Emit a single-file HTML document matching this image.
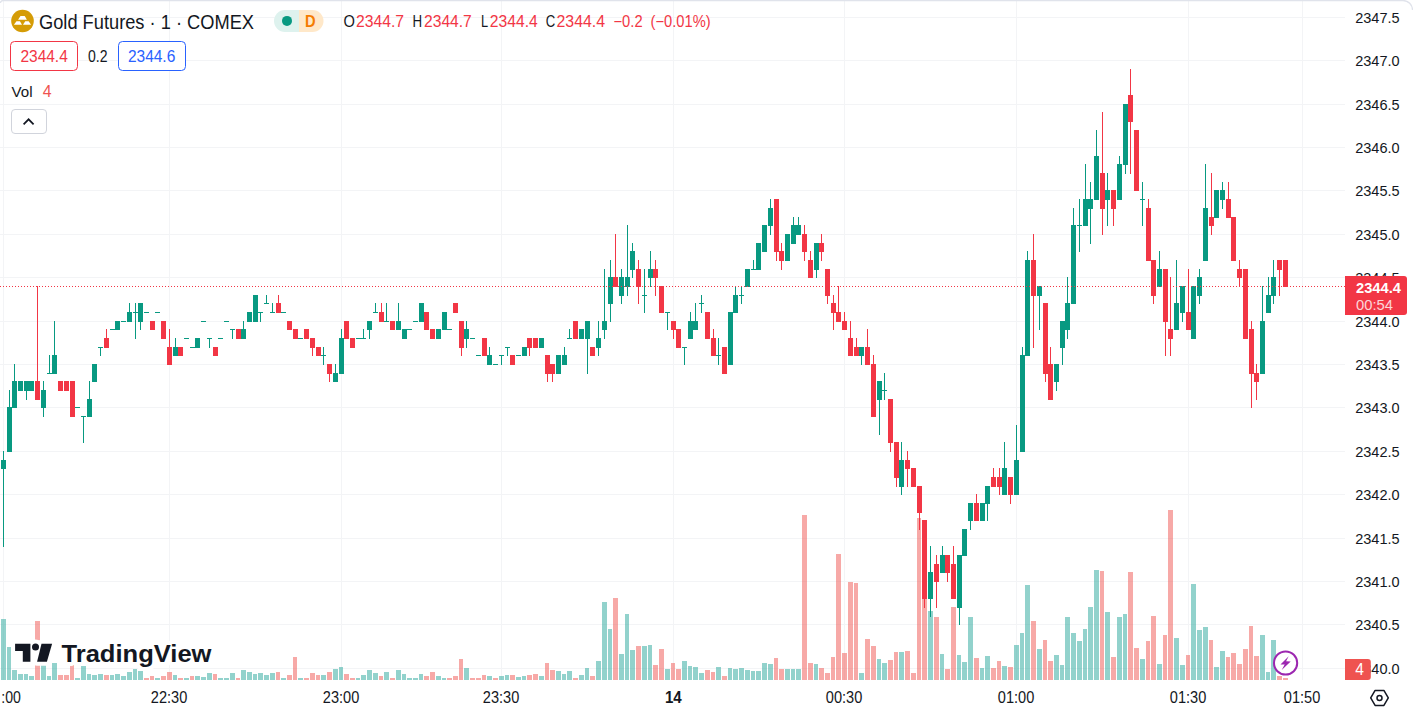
<!DOCTYPE html>
<html lang="en">
<head>
<meta charset="utf-8">
<title>Gold Futures · 1 · COMEX</title>
<style>
html,body{margin:0;padding:0;background:#fff;}
body{width:1413px;height:713px;overflow:hidden;position:relative;font-family:"Liberation Sans",Arial,sans-serif;}
svg text{white-space:pre;}
</style>
</head>
<body>
<svg width="1413" height="713" viewBox="0 0 1413 713" style="display:block;position:absolute;left:0;top:0" font-family='"Liberation Sans", Arial, sans-serif'>
<rect width="1413" height="713" fill="#fff"/>
<g fill="#f3f4f6" shape-rendering="crispEdges">
<rect x="0" y="17" width="1345" height="1"/>
<rect x="0" y="60" width="1345" height="1"/>
<rect x="0" y="104" width="1345" height="1"/>
<rect x="0" y="147" width="1345" height="1"/>
<rect x="0" y="190" width="1345" height="1"/>
<rect x="0" y="234" width="1345" height="1"/>
<rect x="0" y="277" width="1345" height="1"/>
<rect x="0" y="321" width="1345" height="1"/>
<rect x="0" y="364" width="1345" height="1"/>
<rect x="0" y="407" width="1345" height="1"/>
<rect x="0" y="451" width="1345" height="1"/>
<rect x="0" y="494" width="1345" height="1"/>
<rect x="0" y="538" width="1345" height="1"/>
<rect x="0" y="581" width="1345" height="1"/>
<rect x="0" y="624" width="1345" height="1"/>
<rect x="0" y="668" width="1345" height="1"/>
<rect x="3" y="0" width="1" height="680"/>
<rect x="169" y="0" width="1" height="680"/>
<rect x="341" y="0" width="1" height="680"/>
<rect x="501" y="0" width="1" height="680"/>
<rect x="673" y="0" width="1" height="680"/>
<rect x="844" y="0" width="1" height="680"/>
<rect x="1016" y="0" width="1" height="680"/>
<rect x="1188" y="0" width="1" height="680"/>
<rect x="1302" y="0" width="1" height="680"/>
</g>
<g shape-rendering="crispEdges">
<rect x="1" y="619.2" width="5" height="60.8" fill="rgba(38,166,154,0.5)"/>
<rect x="7" y="647.2" width="4" height="32.8" fill="rgba(38,166,154,0.5)"/>
<rect x="12" y="670.3" width="5" height="9.7" fill="rgba(38,166,154,0.5)"/>
<rect x="18" y="674.4" width="5" height="5.6" fill="rgba(38,166,154,0.5)"/>
<rect x="24" y="674.4" width="4" height="5.6" fill="rgba(38,166,154,0.5)"/>
<rect x="29" y="676.3" width="5" height="3.7" fill="rgba(38,166,154,0.5)"/>
<rect x="35" y="621.4" width="5" height="58.6" fill="rgba(239,83,80,0.5)"/>
<rect x="41" y="665.2" width="5" height="14.8" fill="rgba(38,166,154,0.5)"/>
<rect x="47" y="676.3" width="4" height="3.7" fill="rgba(38,166,154,0.5)"/>
<rect x="52" y="663.4" width="5" height="16.6" fill="rgba(38,166,154,0.5)"/>
<rect x="58" y="675.2" width="5" height="4.8" fill="rgba(239,83,80,0.5)"/>
<rect x="64" y="675.2" width="5" height="4.8" fill="rgba(239,83,80,0.5)"/>
<rect x="70" y="665.2" width="4" height="14.8" fill="rgba(239,83,80,0.5)"/>
<rect x="75" y="678.3" width="5" height="1.7" fill="rgba(38,166,154,0.5)"/>
<rect x="81" y="666.4" width="5" height="13.6" fill="rgba(38,166,154,0.5)"/>
<rect x="87" y="674.4" width="4" height="5.6" fill="rgba(38,166,154,0.5)"/>
<rect x="92" y="675.2" width="5" height="4.8" fill="rgba(38,166,154,0.5)"/>
<rect x="98" y="674.4" width="5" height="5.6" fill="rgba(38,166,154,0.5)"/>
<rect x="104" y="675.2" width="5" height="4.8" fill="rgba(239,83,80,0.5)"/>
<rect x="110" y="675.2" width="4" height="4.8" fill="rgba(38,166,154,0.5)"/>
<rect x="115" y="674.4" width="5" height="5.6" fill="rgba(38,166,154,0.5)"/>
<rect x="121" y="676.3" width="5" height="3.7" fill="rgba(38,166,154,0.5)"/>
<rect x="127" y="672.4" width="5" height="7.6" fill="rgba(38,166,154,0.5)"/>
<rect x="133" y="668.5" width="4" height="11.5" fill="rgba(38,166,154,0.5)"/>
<rect x="138" y="671.2" width="5" height="8.8" fill="rgba(38,166,154,0.5)"/>
<rect x="144" y="678.3" width="5" height="1.7" fill="rgba(239,83,80,0.5)"/>
<rect x="150" y="676.3" width="4" height="3.7" fill="rgba(239,83,80,0.5)"/>
<rect x="155" y="678.3" width="5" height="1.7" fill="rgba(38,166,154,0.5)"/>
<rect x="161" y="676.3" width="5" height="3.7" fill="rgba(239,83,80,0.5)"/>
<rect x="167" y="672.4" width="5" height="7.6" fill="rgba(239,83,80,0.5)"/>
<rect x="173" y="675.2" width="4" height="4.8" fill="rgba(38,166,154,0.5)"/>
<rect x="178" y="677.5" width="5" height="2.5" fill="rgba(239,83,80,0.5)"/>
<rect x="184" y="678.3" width="5" height="1.7" fill="rgba(38,166,154,0.5)"/>
<rect x="190" y="676.3" width="4" height="3.7" fill="rgba(239,83,80,0.5)"/>
<rect x="195" y="676.3" width="5" height="3.7" fill="rgba(38,166,154,0.5)"/>
<rect x="201" y="677.3" width="5" height="2.7" fill="rgba(38,166,154,0.5)"/>
<rect x="207" y="673.2" width="5" height="6.8" fill="rgba(38,166,154,0.5)"/>
<rect x="213" y="674.4" width="4" height="5.6" fill="rgba(239,83,80,0.5)"/>
<rect x="218" y="678.3" width="5" height="1.7" fill="rgba(38,166,154,0.5)"/>
<rect x="224" y="678.3" width="5" height="1.7" fill="rgba(38,166,154,0.5)"/>
<rect x="230" y="673.2" width="5" height="6.8" fill="rgba(38,166,154,0.5)"/>
<rect x="236" y="677.5" width="4" height="2.5" fill="rgba(239,83,80,0.5)"/>
<rect x="241" y="670.3" width="5" height="9.7" fill="rgba(38,166,154,0.5)"/>
<rect x="247" y="672.4" width="5" height="7.6" fill="rgba(38,166,154,0.5)"/>
<rect x="253" y="674.4" width="4" height="5.6" fill="rgba(38,166,154,0.5)"/>
<rect x="258" y="673.2" width="5" height="6.8" fill="rgba(38,166,154,0.5)"/>
<rect x="264" y="675.2" width="5" height="4.8" fill="rgba(38,166,154,0.5)"/>
<rect x="270" y="673.2" width="5" height="6.8" fill="rgba(38,166,154,0.5)"/>
<rect x="276" y="672.4" width="4" height="7.6" fill="rgba(239,83,80,0.5)"/>
<rect x="281" y="678.3" width="5" height="1.7" fill="rgba(38,166,154,0.5)"/>
<rect x="287" y="675.2" width="5" height="4.8" fill="rgba(239,83,80,0.5)"/>
<rect x="293" y="657.4" width="4" height="22.6" fill="rgba(239,83,80,0.5)"/>
<rect x="298" y="677.5" width="5" height="2.5" fill="rgba(38,166,154,0.5)"/>
<rect x="304" y="678.3" width="5" height="1.7" fill="rgba(239,83,80,0.5)"/>
<rect x="310" y="673.2" width="5" height="6.8" fill="rgba(239,83,80,0.5)"/>
<rect x="316" y="675.2" width="4" height="4.8" fill="rgba(239,83,80,0.5)"/>
<rect x="321" y="675.2" width="5" height="4.8" fill="rgba(38,166,154,0.5)"/>
<rect x="327" y="672.4" width="5" height="7.6" fill="rgba(239,83,80,0.5)"/>
<rect x="333" y="668.5" width="5" height="11.5" fill="rgba(38,166,154,0.5)"/>
<rect x="339" y="667.3" width="4" height="12.7" fill="rgba(38,166,154,0.5)"/>
<rect x="344" y="674.4" width="5" height="5.6" fill="rgba(239,83,80,0.5)"/>
<rect x="350" y="678.3" width="5" height="1.7" fill="rgba(239,83,80,0.5)"/>
<rect x="356" y="678.3" width="4" height="1.7" fill="rgba(38,166,154,0.5)"/>
<rect x="361" y="675.2" width="5" height="4.8" fill="rgba(38,166,154,0.5)"/>
<rect x="367" y="670.3" width="5" height="9.7" fill="rgba(38,166,154,0.5)"/>
<rect x="373" y="673.2" width="5" height="6.8" fill="rgba(38,166,154,0.5)"/>
<rect x="379" y="676.3" width="4" height="3.7" fill="rgba(239,83,80,0.5)"/>
<rect x="384" y="672.4" width="5" height="7.6" fill="rgba(38,166,154,0.5)"/>
<rect x="390" y="677.5" width="5" height="2.5" fill="rgba(239,83,80,0.5)"/>
<rect x="396" y="670.3" width="5" height="9.7" fill="rgba(38,166,154,0.5)"/>
<rect x="402" y="674.4" width="4" height="5.6" fill="rgba(38,166,154,0.5)"/>
<rect x="407" y="678.3" width="5" height="1.7" fill="rgba(38,166,154,0.5)"/>
<rect x="413" y="677.5" width="5" height="2.5" fill="rgba(38,166,154,0.5)"/>
<rect x="419" y="674.4" width="4" height="5.6" fill="rgba(38,166,154,0.5)"/>
<rect x="424" y="676.3" width="5" height="3.7" fill="rgba(239,83,80,0.5)"/>
<rect x="430" y="671.5" width="5" height="8.5" fill="rgba(239,83,80,0.5)"/>
<rect x="436" y="676.3" width="5" height="3.7" fill="rgba(38,166,154,0.5)"/>
<rect x="442" y="678.3" width="4" height="1.7" fill="rgba(38,166,154,0.5)"/>
<rect x="447" y="678.3" width="5" height="1.7" fill="rgba(239,83,80,0.5)"/>
<rect x="453" y="676.3" width="5" height="3.7" fill="rgba(239,83,80,0.5)"/>
<rect x="459" y="659.2" width="4" height="20.8" fill="rgba(239,83,80,0.5)"/>
<rect x="464" y="668.3" width="5" height="11.7" fill="rgba(38,166,154,0.5)"/>
<rect x="470" y="678.3" width="5" height="1.7" fill="rgba(239,83,80,0.5)"/>
<rect x="476" y="678.3" width="5" height="1.7" fill="rgba(239,83,80,0.5)"/>
<rect x="482" y="675.2" width="4" height="4.8" fill="rgba(239,83,80,0.5)"/>
<rect x="487" y="676.3" width="5" height="3.7" fill="rgba(38,166,154,0.5)"/>
<rect x="493" y="678.3" width="5" height="1.7" fill="rgba(239,83,80,0.5)"/>
<rect x="499" y="676.3" width="5" height="3.7" fill="rgba(38,166,154,0.5)"/>
<rect x="505" y="675.2" width="4" height="4.8" fill="rgba(38,166,154,0.5)"/>
<rect x="510" y="675.2" width="5" height="4.8" fill="rgba(239,83,80,0.5)"/>
<rect x="516" y="677.3" width="5" height="2.7" fill="rgba(38,166,154,0.5)"/>
<rect x="522" y="676.3" width="4" height="3.7" fill="rgba(38,166,154,0.5)"/>
<rect x="527" y="675.2" width="5" height="4.8" fill="rgba(239,83,80,0.5)"/>
<rect x="533" y="674.2" width="5" height="5.8" fill="rgba(239,83,80,0.5)"/>
<rect x="539" y="676.3" width="5" height="3.7" fill="rgba(38,166,154,0.5)"/>
<rect x="545" y="663.4" width="4" height="16.6" fill="rgba(239,83,80,0.5)"/>
<rect x="550" y="670.3" width="5" height="9.7" fill="rgba(239,83,80,0.5)"/>
<rect x="556" y="671.3" width="5" height="8.7" fill="rgba(38,166,154,0.5)"/>
<rect x="562" y="674.4" width="4" height="5.6" fill="rgba(38,166,154,0.5)"/>
<rect x="567" y="671.3" width="5" height="8.7" fill="rgba(38,166,154,0.5)"/>
<rect x="573" y="678.3" width="5" height="1.7" fill="rgba(239,83,80,0.5)"/>
<rect x="579" y="675.2" width="5" height="4.8" fill="rgba(38,166,154,0.5)"/>
<rect x="585" y="668.1" width="4" height="11.9" fill="rgba(38,166,154,0.5)"/>
<rect x="590" y="676.3" width="5" height="3.7" fill="rgba(239,83,80,0.5)"/>
<rect x="596" y="661.3" width="5" height="18.7" fill="rgba(38,166,154,0.5)"/>
<rect x="602" y="602.2" width="5" height="77.8" fill="rgba(38,166,154,0.5)"/>
<rect x="608" y="629.4" width="4" height="50.6" fill="rgba(38,166,154,0.5)"/>
<rect x="613" y="598.3" width="5" height="81.7" fill="rgba(239,83,80,0.5)"/>
<rect x="619" y="654.4" width="5" height="25.6" fill="rgba(38,166,154,0.5)"/>
<rect x="625" y="614.3" width="4" height="65.7" fill="rgba(38,166,154,0.5)"/>
<rect x="630" y="650.3" width="5" height="29.7" fill="rgba(38,166,154,0.5)"/>
<rect x="636" y="646.4" width="5" height="33.6" fill="rgba(239,83,80,0.5)"/>
<rect x="642" y="646.4" width="5" height="33.6" fill="rgba(38,166,154,0.5)"/>
<rect x="648" y="645.2" width="4" height="34.8" fill="rgba(38,166,154,0.5)"/>
<rect x="653" y="665.4" width="5" height="14.6" fill="rgba(239,83,80,0.5)"/>
<rect x="659" y="649.3" width="5" height="30.7" fill="rgba(239,83,80,0.5)"/>
<rect x="665" y="669.3" width="5" height="10.7" fill="rgba(38,166,154,0.5)"/>
<rect x="671" y="663.4" width="4" height="16.6" fill="rgba(239,83,80,0.5)"/>
<rect x="676" y="669.3" width="5" height="10.7" fill="rgba(239,83,80,0.5)"/>
<rect x="682" y="661.3" width="5" height="18.7" fill="rgba(38,166,154,0.5)"/>
<rect x="688" y="666.2" width="4" height="13.8" fill="rgba(38,166,154,0.5)"/>
<rect x="693" y="667.3" width="5" height="12.7" fill="rgba(38,166,154,0.5)"/>
<rect x="699" y="673.2" width="5" height="6.8" fill="rgba(38,166,154,0.5)"/>
<rect x="705" y="670.3" width="5" height="9.7" fill="rgba(239,83,80,0.5)"/>
<rect x="711" y="672.2" width="4" height="7.8" fill="rgba(239,83,80,0.5)"/>
<rect x="716" y="667.3" width="5" height="12.7" fill="rgba(38,166,154,0.5)"/>
<rect x="722" y="676.3" width="5" height="3.7" fill="rgba(239,83,80,0.5)"/>
<rect x="728" y="668.3" width="4" height="11.7" fill="rgba(38,166,154,0.5)"/>
<rect x="733" y="669.1" width="5" height="10.9" fill="rgba(38,166,154,0.5)"/>
<rect x="739" y="668.3" width="5" height="11.7" fill="rgba(38,166,154,0.5)"/>
<rect x="745" y="670.3" width="5" height="9.7" fill="rgba(38,166,154,0.5)"/>
<rect x="751" y="671.2" width="4" height="8.8" fill="rgba(38,166,154,0.5)"/>
<rect x="756" y="671.2" width="5" height="8.8" fill="rgba(38,166,154,0.5)"/>
<rect x="762" y="663.2" width="5" height="16.8" fill="rgba(38,166,154,0.5)"/>
<rect x="768" y="664.2" width="5" height="15.8" fill="rgba(38,166,154,0.5)"/>
<rect x="774" y="658.3" width="4" height="21.7" fill="rgba(239,83,80,0.5)"/>
<rect x="779" y="669.1" width="5" height="10.9" fill="rgba(239,83,80,0.5)"/>
<rect x="785" y="669.1" width="5" height="10.9" fill="rgba(38,166,154,0.5)"/>
<rect x="791" y="669.1" width="4" height="10.9" fill="rgba(38,166,154,0.5)"/>
<rect x="796" y="669.1" width="5" height="10.9" fill="rgba(38,166,154,0.5)"/>
<rect x="802" y="515.4" width="5" height="164.6" fill="rgba(239,83,80,0.5)"/>
<rect x="808" y="663.2" width="5" height="16.8" fill="rgba(239,83,80,0.5)"/>
<rect x="814" y="664.2" width="4" height="15.8" fill="rgba(38,166,154,0.5)"/>
<rect x="819" y="668.3" width="5" height="11.7" fill="rgba(239,83,80,0.5)"/>
<rect x="825" y="673.2" width="5" height="6.8" fill="rgba(239,83,80,0.5)"/>
<rect x="831" y="657.2" width="4" height="22.8" fill="rgba(239,83,80,0.5)"/>
<rect x="836" y="554.3" width="5" height="125.7" fill="rgba(239,83,80,0.5)"/>
<rect x="842" y="653.3" width="5" height="26.7" fill="rgba(239,83,80,0.5)"/>
<rect x="848" y="582.3" width="5" height="97.7" fill="rgba(239,83,80,0.5)"/>
<rect x="854" y="583.4" width="4" height="96.6" fill="rgba(239,83,80,0.5)"/>
<rect x="859" y="673.2" width="5" height="6.8" fill="rgba(38,166,154,0.5)"/>
<rect x="865" y="639.2" width="5" height="40.8" fill="rgba(239,83,80,0.5)"/>
<rect x="871" y="646.2" width="5" height="33.8" fill="rgba(239,83,80,0.5)"/>
<rect x="877" y="659.3" width="4" height="20.7" fill="rgba(38,166,154,0.5)"/>
<rect x="882" y="663.2" width="5" height="16.8" fill="rgba(38,166,154,0.5)"/>
<rect x="888" y="660.3" width="5" height="19.7" fill="rgba(239,83,80,0.5)"/>
<rect x="894" y="652.3" width="4" height="27.7" fill="rgba(239,83,80,0.5)"/>
<rect x="899" y="652.3" width="5" height="27.7" fill="rgba(38,166,154,0.5)"/>
<rect x="905" y="651.3" width="5" height="28.7" fill="rgba(239,83,80,0.5)"/>
<rect x="911" y="673.2" width="5" height="6.8" fill="rgba(239,83,80,0.5)"/>
<rect x="917" y="518.3" width="4" height="161.7" fill="rgba(239,83,80,0.5)"/>
<rect x="922" y="598.0" width="5" height="82.0" fill="rgba(239,83,80,0.5)"/>
<rect x="928" y="610.5" width="5" height="69.5" fill="rgba(38,166,154,0.5)"/>
<rect x="934" y="617.4" width="5" height="62.6" fill="rgba(239,83,80,0.5)"/>
<rect x="940" y="654.2" width="4" height="25.8" fill="rgba(38,166,154,0.5)"/>
<rect x="945" y="669.1" width="5" height="10.9" fill="rgba(239,83,80,0.5)"/>
<rect x="951" y="607.3" width="5" height="72.7" fill="rgba(239,83,80,0.5)"/>
<rect x="957" y="655.2" width="4" height="24.8" fill="rgba(38,166,154,0.5)"/>
<rect x="962" y="662.2" width="5" height="17.8" fill="rgba(38,166,154,0.5)"/>
<rect x="968" y="617.4" width="5" height="62.6" fill="rgba(38,166,154,0.5)"/>
<rect x="974" y="658.4" width="5" height="21.6" fill="rgba(239,83,80,0.5)"/>
<rect x="980" y="668.0" width="4" height="12.0" fill="rgba(38,166,154,0.5)"/>
<rect x="985" y="656.3" width="5" height="23.7" fill="rgba(38,166,154,0.5)"/>
<rect x="991" y="668.0" width="5" height="12.0" fill="rgba(239,83,80,0.5)"/>
<rect x="997" y="661.2" width="4" height="18.8" fill="rgba(239,83,80,0.5)"/>
<rect x="1002" y="666.2" width="5" height="13.8" fill="rgba(38,166,154,0.5)"/>
<rect x="1008" y="667.3" width="5" height="12.7" fill="rgba(239,83,80,0.5)"/>
<rect x="1014" y="645.3" width="5" height="34.7" fill="rgba(38,166,154,0.5)"/>
<rect x="1020" y="633.3" width="4" height="46.7" fill="rgba(38,166,154,0.5)"/>
<rect x="1025" y="585.3" width="5" height="94.7" fill="rgba(38,166,154,0.5)"/>
<rect x="1031" y="621.3" width="5" height="58.7" fill="rgba(239,83,80,0.5)"/>
<rect x="1037" y="649.4" width="5" height="30.6" fill="rgba(38,166,154,0.5)"/>
<rect x="1043" y="640.4" width="4" height="39.6" fill="rgba(239,83,80,0.5)"/>
<rect x="1048" y="661.4" width="5" height="18.6" fill="rgba(239,83,80,0.5)"/>
<rect x="1054" y="655.4" width="5" height="24.6" fill="rgba(38,166,154,0.5)"/>
<rect x="1060" y="665.4" width="4" height="14.6" fill="rgba(38,166,154,0.5)"/>
<rect x="1065" y="617.4" width="5" height="62.6" fill="rgba(38,166,154,0.5)"/>
<rect x="1071" y="633.3" width="5" height="46.7" fill="rgba(38,166,154,0.5)"/>
<rect x="1077" y="641.3" width="5" height="38.7" fill="rgba(38,166,154,0.5)"/>
<rect x="1083" y="629.3" width="4" height="50.7" fill="rgba(38,166,154,0.5)"/>
<rect x="1088" y="607.4" width="5" height="72.6" fill="rgba(38,166,154,0.5)"/>
<rect x="1094" y="570.4" width="5" height="109.6" fill="rgba(38,166,154,0.5)"/>
<rect x="1100" y="571.3" width="4" height="108.7" fill="rgba(239,83,80,0.5)"/>
<rect x="1105" y="612.3" width="5" height="67.7" fill="rgba(38,166,154,0.5)"/>
<rect x="1111" y="657.4" width="5" height="22.6" fill="rgba(239,83,80,0.5)"/>
<rect x="1117" y="617.4" width="5" height="62.6" fill="rgba(38,166,154,0.5)"/>
<rect x="1123" y="614.3" width="4" height="65.7" fill="rgba(38,166,154,0.5)"/>
<rect x="1128" y="572.4" width="5" height="107.6" fill="rgba(239,83,80,0.5)"/>
<rect x="1134" y="648.4" width="5" height="31.6" fill="rgba(239,83,80,0.5)"/>
<rect x="1140" y="659.4" width="5" height="20.6" fill="rgba(38,166,154,0.5)"/>
<rect x="1146" y="641.3" width="4" height="38.7" fill="rgba(239,83,80,0.5)"/>
<rect x="1151" y="616.3" width="5" height="63.7" fill="rgba(239,83,80,0.5)"/>
<rect x="1157" y="664.3" width="5" height="15.7" fill="rgba(38,166,154,0.5)"/>
<rect x="1163" y="635.3" width="4" height="44.7" fill="rgba(239,83,80,0.5)"/>
<rect x="1168" y="510.1" width="5" height="169.9" fill="rgba(239,83,80,0.5)"/>
<rect x="1174" y="638.4" width="5" height="41.6" fill="rgba(38,166,154,0.5)"/>
<rect x="1180" y="665.4" width="5" height="14.6" fill="rgba(38,166,154,0.5)"/>
<rect x="1186" y="655.4" width="4" height="24.6" fill="rgba(239,83,80,0.5)"/>
<rect x="1191" y="584.3" width="5" height="95.7" fill="rgba(38,166,154,0.5)"/>
<rect x="1197" y="630.4" width="5" height="49.6" fill="rgba(38,166,154,0.5)"/>
<rect x="1203" y="627.3" width="5" height="52.7" fill="rgba(38,166,154,0.5)"/>
<rect x="1209" y="640.4" width="4" height="39.6" fill="rgba(239,83,80,0.5)"/>
<rect x="1214" y="667.4" width="5" height="12.6" fill="rgba(38,166,154,0.5)"/>
<rect x="1220" y="651.4" width="5" height="28.6" fill="rgba(38,166,154,0.5)"/>
<rect x="1226" y="657.4" width="4" height="22.6" fill="rgba(239,83,80,0.5)"/>
<rect x="1231" y="653.3" width="5" height="26.7" fill="rgba(239,83,80,0.5)"/>
<rect x="1237" y="664.3" width="5" height="15.7" fill="rgba(239,83,80,0.5)"/>
<rect x="1243" y="649.3" width="5" height="30.7" fill="rgba(239,83,80,0.5)"/>
<rect x="1249" y="626.2" width="4" height="53.8" fill="rgba(239,83,80,0.5)"/>
<rect x="1254" y="656.4" width="5" height="23.6" fill="rgba(239,83,80,0.5)"/>
<rect x="1260" y="635.3" width="5" height="44.7" fill="rgba(38,166,154,0.5)"/>
<rect x="1266" y="672.3" width="4" height="7.7" fill="rgba(38,166,154,0.5)"/>
<rect x="1271" y="640.2" width="5" height="39.8" fill="rgba(38,166,154,0.5)"/>
<rect x="1277" y="675.5" width="5" height="4.5" fill="rgba(239,83,80,0.5)"/>
<rect x="1283" y="677.9" width="5" height="2.1" fill="rgba(239,83,80,0.5)"/>
</g>
<g shape-rendering="crispEdges">
<rect x="3" y="451" width="1" height="96" fill="#089981"/>
<rect x="1" y="460" width="5" height="9" fill="#089981"/>
<rect x="9" y="390" width="1" height="62" fill="#089981"/>
<rect x="7" y="407" width="5" height="45" fill="#089981"/>
<rect x="14" y="364" width="1" height="44" fill="#089981"/>
<rect x="12" y="381" width="5" height="27" fill="#089981"/>
<rect x="20" y="381" width="1" height="10" fill="#089981"/>
<rect x="18" y="381" width="5" height="10" fill="#089981"/>
<rect x="26" y="381" width="1" height="19" fill="#089981"/>
<rect x="24" y="381" width="5" height="10" fill="#089981"/>
<rect x="31" y="381" width="1" height="10" fill="#089981"/>
<rect x="29" y="381" width="5" height="10" fill="#089981"/>
<rect x="37" y="286" width="1" height="114" fill="#f23645"/>
<rect x="35" y="381" width="5" height="19" fill="#f23645"/>
<rect x="43" y="381" width="1" height="36" fill="#089981"/>
<rect x="41" y="390" width="5" height="18" fill="#089981"/>
<rect x="49" y="355" width="1" height="19" fill="#089981"/>
<rect x="47" y="373" width="5" height="1" fill="#089981"/>
<rect x="54" y="321" width="1" height="53" fill="#089981"/>
<rect x="52" y="355" width="5" height="19" fill="#089981"/>
<rect x="60" y="381" width="1" height="10" fill="#f23645"/>
<rect x="58" y="381" width="5" height="10" fill="#f23645"/>
<rect x="66" y="381" width="1" height="10" fill="#f23645"/>
<rect x="64" y="381" width="5" height="10" fill="#f23645"/>
<rect x="72" y="381" width="1" height="36" fill="#f23645"/>
<rect x="70" y="381" width="5" height="36" fill="#f23645"/>
<rect x="77" y="407" width="1" height="1" fill="#089981"/>
<rect x="75" y="407" width="5" height="1" fill="#089981"/>
<rect x="83" y="416" width="1" height="27" fill="#089981"/>
<rect x="81" y="416" width="5" height="1" fill="#089981"/>
<rect x="89" y="381" width="1" height="36" fill="#089981"/>
<rect x="87" y="399" width="5" height="18" fill="#089981"/>
<rect x="94" y="364" width="1" height="18" fill="#089981"/>
<rect x="92" y="364" width="5" height="18" fill="#089981"/>
<rect x="100" y="347" width="1" height="9" fill="#089981"/>
<rect x="98" y="347" width="5" height="1" fill="#089981"/>
<rect x="106" y="329" width="1" height="19" fill="#f23645"/>
<rect x="104" y="338" width="5" height="10" fill="#f23645"/>
<rect x="112" y="329" width="1" height="1" fill="#089981"/>
<rect x="110" y="329" width="5" height="1" fill="#089981"/>
<rect x="117" y="321" width="1" height="9" fill="#089981"/>
<rect x="115" y="321" width="5" height="9" fill="#089981"/>
<rect x="123" y="321" width="1" height="1" fill="#089981"/>
<rect x="121" y="321" width="5" height="1" fill="#089981"/>
<rect x="129" y="303" width="1" height="19" fill="#089981"/>
<rect x="127" y="312" width="5" height="10" fill="#089981"/>
<rect x="135" y="303" width="1" height="36" fill="#089981"/>
<rect x="133" y="312" width="5" height="1" fill="#089981"/>
<rect x="140" y="303" width="1" height="27" fill="#089981"/>
<rect x="138" y="303" width="5" height="19" fill="#089981"/>
<rect x="146" y="312" width="1" height="1" fill="#089981"/>
<rect x="144" y="312" width="5" height="1" fill="#089981"/>
<rect x="152" y="321" width="1" height="9" fill="#f23645"/>
<rect x="150" y="321" width="5" height="9" fill="#f23645"/>
<rect x="157" y="312" width="1" height="1" fill="#089981"/>
<rect x="155" y="312" width="5" height="1" fill="#089981"/>
<rect x="163" y="321" width="1" height="18" fill="#f23645"/>
<rect x="161" y="321" width="5" height="18" fill="#f23645"/>
<rect x="169" y="329" width="1" height="36" fill="#f23645"/>
<rect x="167" y="347" width="5" height="18" fill="#f23645"/>
<rect x="175" y="338" width="1" height="18" fill="#089981"/>
<rect x="173" y="347" width="5" height="9" fill="#089981"/>
<rect x="180" y="347" width="1" height="9" fill="#f23645"/>
<rect x="178" y="347" width="5" height="9" fill="#f23645"/>
<rect x="186" y="338" width="1" height="1" fill="#089981"/>
<rect x="184" y="338" width="5" height="1" fill="#089981"/>
<rect x="192" y="347" width="1" height="1" fill="#089981"/>
<rect x="190" y="347" width="5" height="1" fill="#089981"/>
<rect x="197" y="338" width="1" height="10" fill="#089981"/>
<rect x="195" y="338" width="5" height="10" fill="#089981"/>
<rect x="203" y="321" width="1" height="1" fill="#089981"/>
<rect x="201" y="321" width="5" height="1" fill="#089981"/>
<rect x="209" y="338" width="1" height="10" fill="#089981"/>
<rect x="207" y="338" width="5" height="1" fill="#089981"/>
<rect x="215" y="347" width="1" height="9" fill="#f23645"/>
<rect x="213" y="347" width="5" height="9" fill="#f23645"/>
<rect x="220" y="338" width="1" height="1" fill="#089981"/>
<rect x="218" y="338" width="5" height="1" fill="#089981"/>
<rect x="226" y="321" width="1" height="1" fill="#089981"/>
<rect x="224" y="321" width="5" height="1" fill="#089981"/>
<rect x="232" y="329" width="1" height="10" fill="#089981"/>
<rect x="230" y="329" width="5" height="1" fill="#089981"/>
<rect x="238" y="329" width="1" height="10" fill="#f23645"/>
<rect x="236" y="329" width="5" height="10" fill="#f23645"/>
<rect x="243" y="321" width="1" height="18" fill="#089981"/>
<rect x="241" y="329" width="5" height="10" fill="#089981"/>
<rect x="249" y="312" width="1" height="10" fill="#089981"/>
<rect x="247" y="312" width="5" height="10" fill="#089981"/>
<rect x="255" y="295" width="1" height="27" fill="#089981"/>
<rect x="253" y="295" width="5" height="27" fill="#089981"/>
<rect x="260" y="312" width="1" height="10" fill="#089981"/>
<rect x="258" y="312" width="5" height="1" fill="#089981"/>
<rect x="266" y="295" width="1" height="9" fill="#089981"/>
<rect x="264" y="303" width="5" height="1" fill="#089981"/>
<rect x="272" y="303" width="1" height="10" fill="#089981"/>
<rect x="270" y="312" width="5" height="1" fill="#089981"/>
<rect x="278" y="295" width="1" height="18" fill="#f23645"/>
<rect x="276" y="303" width="5" height="10" fill="#f23645"/>
<rect x="283" y="312" width="1" height="1" fill="#089981"/>
<rect x="281" y="312" width="5" height="1" fill="#089981"/>
<rect x="289" y="321" width="1" height="9" fill="#f23645"/>
<rect x="287" y="321" width="5" height="9" fill="#f23645"/>
<rect x="295" y="329" width="1" height="10" fill="#f23645"/>
<rect x="293" y="329" width="5" height="10" fill="#f23645"/>
<rect x="300" y="338" width="1" height="1" fill="#089981"/>
<rect x="298" y="338" width="5" height="1" fill="#089981"/>
<rect x="306" y="329" width="1" height="10" fill="#f23645"/>
<rect x="304" y="329" width="5" height="10" fill="#f23645"/>
<rect x="312" y="338" width="1" height="18" fill="#f23645"/>
<rect x="310" y="338" width="5" height="10" fill="#f23645"/>
<rect x="318" y="347" width="1" height="9" fill="#f23645"/>
<rect x="316" y="347" width="5" height="9" fill="#f23645"/>
<rect x="323" y="347" width="1" height="18" fill="#089981"/>
<rect x="321" y="355" width="5" height="1" fill="#089981"/>
<rect x="329" y="364" width="1" height="18" fill="#f23645"/>
<rect x="327" y="364" width="5" height="10" fill="#f23645"/>
<rect x="335" y="364" width="1" height="18" fill="#089981"/>
<rect x="333" y="373" width="5" height="9" fill="#089981"/>
<rect x="341" y="329" width="1" height="45" fill="#089981"/>
<rect x="339" y="338" width="5" height="36" fill="#089981"/>
<rect x="346" y="321" width="1" height="18" fill="#f23645"/>
<rect x="344" y="321" width="5" height="18" fill="#f23645"/>
<rect x="352" y="338" width="1" height="10" fill="#f23645"/>
<rect x="350" y="338" width="5" height="10" fill="#f23645"/>
<rect x="358" y="338" width="1" height="1" fill="#089981"/>
<rect x="356" y="338" width="5" height="1" fill="#089981"/>
<rect x="363" y="329" width="1" height="10" fill="#089981"/>
<rect x="361" y="338" width="5" height="1" fill="#089981"/>
<rect x="369" y="321" width="1" height="18" fill="#089981"/>
<rect x="367" y="321" width="5" height="9" fill="#089981"/>
<rect x="375" y="303" width="1" height="10" fill="#089981"/>
<rect x="373" y="312" width="5" height="1" fill="#089981"/>
<rect x="381" y="303" width="1" height="19" fill="#f23645"/>
<rect x="379" y="312" width="5" height="10" fill="#f23645"/>
<rect x="386" y="303" width="1" height="19" fill="#089981"/>
<rect x="384" y="321" width="5" height="1" fill="#089981"/>
<rect x="392" y="321" width="1" height="9" fill="#f23645"/>
<rect x="390" y="321" width="5" height="9" fill="#f23645"/>
<rect x="398" y="303" width="1" height="27" fill="#089981"/>
<rect x="396" y="321" width="5" height="9" fill="#089981"/>
<rect x="404" y="329" width="1" height="10" fill="#089981"/>
<rect x="402" y="329" width="5" height="10" fill="#089981"/>
<rect x="409" y="329" width="1" height="1" fill="#089981"/>
<rect x="407" y="329" width="5" height="1" fill="#089981"/>
<rect x="415" y="321" width="1" height="1" fill="#089981"/>
<rect x="413" y="321" width="5" height="1" fill="#089981"/>
<rect x="421" y="303" width="1" height="19" fill="#089981"/>
<rect x="419" y="303" width="5" height="19" fill="#089981"/>
<rect x="426" y="312" width="1" height="18" fill="#f23645"/>
<rect x="424" y="312" width="5" height="18" fill="#f23645"/>
<rect x="432" y="329" width="1" height="10" fill="#f23645"/>
<rect x="430" y="329" width="5" height="10" fill="#f23645"/>
<rect x="438" y="329" width="1" height="10" fill="#089981"/>
<rect x="436" y="329" width="5" height="10" fill="#089981"/>
<rect x="444" y="312" width="1" height="18" fill="#089981"/>
<rect x="442" y="312" width="5" height="18" fill="#089981"/>
<rect x="449" y="329" width="1" height="1" fill="#089981"/>
<rect x="447" y="329" width="5" height="1" fill="#089981"/>
<rect x="455" y="303" width="1" height="10" fill="#f23645"/>
<rect x="453" y="303" width="5" height="10" fill="#f23645"/>
<rect x="461" y="321" width="1" height="35" fill="#f23645"/>
<rect x="459" y="321" width="5" height="27" fill="#f23645"/>
<rect x="466" y="321" width="1" height="27" fill="#089981"/>
<rect x="464" y="329" width="5" height="10" fill="#089981"/>
<rect x="472" y="338" width="1" height="1" fill="#089981"/>
<rect x="470" y="338" width="5" height="1" fill="#089981"/>
<rect x="478" y="355" width="1" height="1" fill="#089981"/>
<rect x="476" y="355" width="5" height="1" fill="#089981"/>
<rect x="484" y="338" width="1" height="18" fill="#f23645"/>
<rect x="482" y="338" width="5" height="18" fill="#f23645"/>
<rect x="489" y="347" width="1" height="18" fill="#089981"/>
<rect x="487" y="355" width="5" height="10" fill="#089981"/>
<rect x="495" y="364" width="1" height="1" fill="#089981"/>
<rect x="493" y="364" width="5" height="1" fill="#089981"/>
<rect x="501" y="355" width="1" height="10" fill="#089981"/>
<rect x="499" y="355" width="5" height="1" fill="#089981"/>
<rect x="507" y="347" width="1" height="9" fill="#089981"/>
<rect x="505" y="347" width="5" height="1" fill="#089981"/>
<rect x="512" y="355" width="1" height="10" fill="#f23645"/>
<rect x="510" y="355" width="5" height="10" fill="#f23645"/>
<rect x="518" y="355" width="1" height="1" fill="#089981"/>
<rect x="516" y="355" width="5" height="1" fill="#089981"/>
<rect x="524" y="347" width="1" height="9" fill="#089981"/>
<rect x="522" y="347" width="5" height="9" fill="#089981"/>
<rect x="529" y="338" width="1" height="18" fill="#f23645"/>
<rect x="527" y="338" width="5" height="10" fill="#f23645"/>
<rect x="535" y="338" width="1" height="10" fill="#f23645"/>
<rect x="533" y="338" width="5" height="10" fill="#f23645"/>
<rect x="541" y="338" width="1" height="10" fill="#089981"/>
<rect x="539" y="338" width="5" height="10" fill="#089981"/>
<rect x="547" y="355" width="1" height="27" fill="#f23645"/>
<rect x="545" y="355" width="5" height="19" fill="#f23645"/>
<rect x="552" y="364" width="1" height="18" fill="#f23645"/>
<rect x="550" y="364" width="5" height="10" fill="#f23645"/>
<rect x="558" y="355" width="1" height="19" fill="#089981"/>
<rect x="556" y="355" width="5" height="19" fill="#089981"/>
<rect x="564" y="347" width="1" height="18" fill="#089981"/>
<rect x="562" y="355" width="5" height="10" fill="#089981"/>
<rect x="569" y="329" width="1" height="10" fill="#089981"/>
<rect x="567" y="338" width="5" height="1" fill="#089981"/>
<rect x="575" y="321" width="1" height="18" fill="#f23645"/>
<rect x="573" y="321" width="5" height="18" fill="#f23645"/>
<rect x="581" y="329" width="1" height="10" fill="#089981"/>
<rect x="579" y="329" width="5" height="10" fill="#089981"/>
<rect x="587" y="321" width="1" height="53" fill="#089981"/>
<rect x="585" y="321" width="5" height="18" fill="#089981"/>
<rect x="592" y="347" width="1" height="9" fill="#f23645"/>
<rect x="590" y="347" width="5" height="9" fill="#f23645"/>
<rect x="598" y="321" width="1" height="35" fill="#089981"/>
<rect x="596" y="338" width="5" height="10" fill="#089981"/>
<rect x="604" y="269" width="1" height="70" fill="#089981"/>
<rect x="602" y="321" width="5" height="9" fill="#089981"/>
<rect x="610" y="260" width="1" height="62" fill="#089981"/>
<rect x="608" y="277" width="5" height="27" fill="#089981"/>
<rect x="615" y="234" width="1" height="53" fill="#f23645"/>
<rect x="613" y="277" width="5" height="10" fill="#f23645"/>
<rect x="621" y="269" width="1" height="35" fill="#089981"/>
<rect x="619" y="277" width="5" height="19" fill="#089981"/>
<rect x="627" y="225" width="1" height="71" fill="#089981"/>
<rect x="625" y="277" width="5" height="10" fill="#089981"/>
<rect x="632" y="243" width="1" height="35" fill="#089981"/>
<rect x="630" y="251" width="5" height="19" fill="#089981"/>
<rect x="638" y="260" width="1" height="44" fill="#f23645"/>
<rect x="636" y="269" width="5" height="18" fill="#f23645"/>
<rect x="644" y="269" width="1" height="44" fill="#089981"/>
<rect x="642" y="295" width="5" height="1" fill="#089981"/>
<rect x="650" y="251" width="1" height="36" fill="#089981"/>
<rect x="648" y="269" width="5" height="9" fill="#089981"/>
<rect x="655" y="260" width="1" height="36" fill="#f23645"/>
<rect x="653" y="269" width="5" height="9" fill="#f23645"/>
<rect x="661" y="286" width="1" height="27" fill="#f23645"/>
<rect x="659" y="286" width="5" height="27" fill="#f23645"/>
<rect x="667" y="312" width="1" height="18" fill="#089981"/>
<rect x="665" y="312" width="5" height="1" fill="#089981"/>
<rect x="673" y="321" width="1" height="18" fill="#f23645"/>
<rect x="671" y="321" width="5" height="9" fill="#f23645"/>
<rect x="678" y="329" width="1" height="19" fill="#f23645"/>
<rect x="676" y="329" width="5" height="19" fill="#f23645"/>
<rect x="684" y="347" width="1" height="18" fill="#089981"/>
<rect x="682" y="347" width="5" height="1" fill="#089981"/>
<rect x="690" y="312" width="1" height="27" fill="#089981"/>
<rect x="688" y="321" width="5" height="18" fill="#089981"/>
<rect x="695" y="303" width="1" height="27" fill="#089981"/>
<rect x="693" y="321" width="5" height="9" fill="#089981"/>
<rect x="701" y="295" width="1" height="18" fill="#089981"/>
<rect x="699" y="303" width="5" height="1" fill="#089981"/>
<rect x="707" y="312" width="1" height="27" fill="#f23645"/>
<rect x="705" y="312" width="5" height="27" fill="#f23645"/>
<rect x="713" y="329" width="1" height="27" fill="#f23645"/>
<rect x="711" y="338" width="5" height="18" fill="#f23645"/>
<rect x="718" y="338" width="1" height="27" fill="#089981"/>
<rect x="716" y="355" width="5" height="1" fill="#089981"/>
<rect x="724" y="347" width="1" height="27" fill="#f23645"/>
<rect x="722" y="347" width="5" height="27" fill="#f23645"/>
<rect x="730" y="312" width="1" height="53" fill="#089981"/>
<rect x="728" y="312" width="5" height="53" fill="#089981"/>
<rect x="735" y="286" width="1" height="27" fill="#089981"/>
<rect x="733" y="295" width="5" height="18" fill="#089981"/>
<rect x="741" y="286" width="1" height="18" fill="#089981"/>
<rect x="739" y="295" width="5" height="1" fill="#089981"/>
<rect x="747" y="269" width="1" height="18" fill="#089981"/>
<rect x="745" y="269" width="5" height="18" fill="#089981"/>
<rect x="753" y="260" width="1" height="10" fill="#089981"/>
<rect x="751" y="269" width="5" height="1" fill="#089981"/>
<rect x="758" y="243" width="1" height="27" fill="#089981"/>
<rect x="756" y="243" width="5" height="27" fill="#089981"/>
<rect x="764" y="225" width="1" height="27" fill="#089981"/>
<rect x="762" y="225" width="5" height="27" fill="#089981"/>
<rect x="770" y="199" width="1" height="36" fill="#089981"/>
<rect x="768" y="208" width="5" height="18" fill="#089981"/>
<rect x="776" y="199" width="1" height="62" fill="#f23645"/>
<rect x="774" y="199" width="5" height="53" fill="#f23645"/>
<rect x="781" y="243" width="1" height="27" fill="#f23645"/>
<rect x="779" y="251" width="5" height="10" fill="#f23645"/>
<rect x="787" y="234" width="1" height="27" fill="#089981"/>
<rect x="785" y="234" width="5" height="27" fill="#089981"/>
<rect x="793" y="217" width="1" height="27" fill="#089981"/>
<rect x="791" y="225" width="5" height="19" fill="#089981"/>
<rect x="798" y="217" width="1" height="18" fill="#089981"/>
<rect x="796" y="225" width="5" height="10" fill="#089981"/>
<rect x="804" y="225" width="1" height="36" fill="#f23645"/>
<rect x="802" y="234" width="5" height="18" fill="#f23645"/>
<rect x="810" y="251" width="1" height="27" fill="#f23645"/>
<rect x="808" y="260" width="5" height="18" fill="#f23645"/>
<rect x="816" y="243" width="1" height="35" fill="#089981"/>
<rect x="814" y="243" width="5" height="27" fill="#089981"/>
<rect x="821" y="234" width="1" height="27" fill="#f23645"/>
<rect x="819" y="243" width="5" height="9" fill="#f23645"/>
<rect x="827" y="269" width="1" height="35" fill="#f23645"/>
<rect x="825" y="269" width="5" height="27" fill="#f23645"/>
<rect x="833" y="295" width="1" height="35" fill="#f23645"/>
<rect x="831" y="303" width="5" height="10" fill="#f23645"/>
<rect x="838" y="286" width="1" height="36" fill="#f23645"/>
<rect x="836" y="312" width="5" height="10" fill="#f23645"/>
<rect x="844" y="312" width="1" height="18" fill="#f23645"/>
<rect x="842" y="321" width="5" height="9" fill="#f23645"/>
<rect x="850" y="321" width="1" height="35" fill="#f23645"/>
<rect x="848" y="338" width="5" height="18" fill="#f23645"/>
<rect x="856" y="338" width="1" height="18" fill="#f23645"/>
<rect x="854" y="347" width="5" height="9" fill="#f23645"/>
<rect x="861" y="347" width="1" height="18" fill="#089981"/>
<rect x="859" y="347" width="5" height="9" fill="#089981"/>
<rect x="867" y="329" width="1" height="36" fill="#f23645"/>
<rect x="865" y="347" width="5" height="18" fill="#f23645"/>
<rect x="873" y="355" width="1" height="62" fill="#f23645"/>
<rect x="871" y="364" width="5" height="53" fill="#f23645"/>
<rect x="879" y="381" width="1" height="54" fill="#089981"/>
<rect x="877" y="381" width="5" height="19" fill="#089981"/>
<rect x="884" y="373" width="1" height="27" fill="#089981"/>
<rect x="882" y="390" width="5" height="1" fill="#089981"/>
<rect x="890" y="399" width="1" height="53" fill="#f23645"/>
<rect x="888" y="399" width="5" height="44" fill="#f23645"/>
<rect x="896" y="442" width="1" height="45" fill="#f23645"/>
<rect x="894" y="442" width="5" height="36" fill="#f23645"/>
<rect x="901" y="442" width="1" height="53" fill="#089981"/>
<rect x="899" y="460" width="5" height="27" fill="#089981"/>
<rect x="907" y="451" width="1" height="36" fill="#f23645"/>
<rect x="905" y="460" width="5" height="9" fill="#f23645"/>
<rect x="913" y="468" width="1" height="19" fill="#f23645"/>
<rect x="911" y="468" width="5" height="19" fill="#f23645"/>
<rect x="919" y="486" width="1" height="44" fill="#f23645"/>
<rect x="917" y="486" width="5" height="27" fill="#f23645"/>
<rect x="924" y="520" width="1" height="88" fill="#f23645"/>
<rect x="922" y="520" width="5" height="79" fill="#f23645"/>
<rect x="930" y="546" width="1" height="71" fill="#089981"/>
<rect x="928" y="572" width="5" height="27" fill="#089981"/>
<rect x="936" y="555" width="1" height="53" fill="#f23645"/>
<rect x="934" y="564" width="5" height="18" fill="#f23645"/>
<rect x="942" y="546" width="1" height="27" fill="#089981"/>
<rect x="940" y="555" width="5" height="18" fill="#089981"/>
<rect x="947" y="555" width="1" height="27" fill="#f23645"/>
<rect x="945" y="555" width="5" height="18" fill="#f23645"/>
<rect x="953" y="546" width="1" height="53" fill="#f23645"/>
<rect x="951" y="564" width="5" height="35" fill="#f23645"/>
<rect x="959" y="555" width="1" height="70" fill="#089981"/>
<rect x="957" y="555" width="5" height="53" fill="#089981"/>
<rect x="964" y="529" width="1" height="27" fill="#089981"/>
<rect x="962" y="529" width="5" height="27" fill="#089981"/>
<rect x="970" y="503" width="1" height="27" fill="#089981"/>
<rect x="968" y="503" width="5" height="18" fill="#089981"/>
<rect x="976" y="494" width="1" height="27" fill="#f23645"/>
<rect x="974" y="503" width="5" height="18" fill="#f23645"/>
<rect x="982" y="503" width="1" height="18" fill="#089981"/>
<rect x="980" y="503" width="5" height="18" fill="#089981"/>
<rect x="987" y="486" width="1" height="35" fill="#089981"/>
<rect x="985" y="486" width="5" height="18" fill="#089981"/>
<rect x="993" y="468" width="1" height="19" fill="#f23645"/>
<rect x="991" y="477" width="5" height="10" fill="#f23645"/>
<rect x="999" y="468" width="1" height="27" fill="#f23645"/>
<rect x="997" y="477" width="5" height="10" fill="#f23645"/>
<rect x="1004" y="442" width="1" height="53" fill="#089981"/>
<rect x="1002" y="468" width="5" height="27" fill="#089981"/>
<rect x="1010" y="477" width="1" height="27" fill="#f23645"/>
<rect x="1008" y="477" width="5" height="18" fill="#f23645"/>
<rect x="1016" y="425" width="1" height="70" fill="#089981"/>
<rect x="1014" y="460" width="5" height="35" fill="#089981"/>
<rect x="1022" y="347" width="1" height="105" fill="#089981"/>
<rect x="1020" y="355" width="5" height="97" fill="#089981"/>
<rect x="1027" y="251" width="1" height="105" fill="#089981"/>
<rect x="1025" y="260" width="5" height="96" fill="#089981"/>
<rect x="1033" y="234" width="1" height="114" fill="#f23645"/>
<rect x="1031" y="260" width="5" height="36" fill="#f23645"/>
<rect x="1039" y="286" width="1" height="44" fill="#089981"/>
<rect x="1037" y="286" width="5" height="10" fill="#089981"/>
<rect x="1045" y="303" width="1" height="79" fill="#f23645"/>
<rect x="1043" y="303" width="5" height="71" fill="#f23645"/>
<rect x="1050" y="347" width="1" height="53" fill="#f23645"/>
<rect x="1048" y="364" width="5" height="36" fill="#f23645"/>
<rect x="1056" y="364" width="1" height="27" fill="#089981"/>
<rect x="1054" y="364" width="5" height="18" fill="#089981"/>
<rect x="1062" y="321" width="1" height="44" fill="#089981"/>
<rect x="1060" y="321" width="5" height="27" fill="#089981"/>
<rect x="1067" y="277" width="1" height="62" fill="#089981"/>
<rect x="1065" y="303" width="5" height="27" fill="#089981"/>
<rect x="1073" y="208" width="1" height="96" fill="#089981"/>
<rect x="1071" y="225" width="5" height="79" fill="#089981"/>
<rect x="1079" y="199" width="1" height="53" fill="#089981"/>
<rect x="1077" y="225" width="5" height="1" fill="#089981"/>
<rect x="1085" y="164" width="1" height="62" fill="#089981"/>
<rect x="1083" y="199" width="5" height="27" fill="#089981"/>
<rect x="1090" y="182" width="1" height="62" fill="#089981"/>
<rect x="1088" y="199" width="5" height="10" fill="#089981"/>
<rect x="1096" y="130" width="1" height="70" fill="#089981"/>
<rect x="1094" y="156" width="5" height="44" fill="#089981"/>
<rect x="1102" y="112" width="1" height="123" fill="#f23645"/>
<rect x="1100" y="173" width="5" height="36" fill="#f23645"/>
<rect x="1107" y="173" width="1" height="53" fill="#089981"/>
<rect x="1105" y="190" width="5" height="10" fill="#089981"/>
<rect x="1113" y="190" width="1" height="36" fill="#f23645"/>
<rect x="1111" y="190" width="5" height="19" fill="#f23645"/>
<rect x="1119" y="156" width="1" height="44" fill="#089981"/>
<rect x="1117" y="164" width="5" height="36" fill="#089981"/>
<rect x="1125" y="104" width="1" height="70" fill="#089981"/>
<rect x="1123" y="104" width="5" height="61" fill="#089981"/>
<rect x="1130" y="69" width="1" height="105" fill="#f23645"/>
<rect x="1128" y="95" width="5" height="27" fill="#f23645"/>
<rect x="1136" y="130" width="1" height="61" fill="#f23645"/>
<rect x="1134" y="130" width="5" height="61" fill="#f23645"/>
<rect x="1142" y="182" width="1" height="44" fill="#089981"/>
<rect x="1140" y="199" width="5" height="1" fill="#089981"/>
<rect x="1148" y="199" width="1" height="62" fill="#f23645"/>
<rect x="1146" y="208" width="5" height="53" fill="#f23645"/>
<rect x="1153" y="260" width="1" height="44" fill="#f23645"/>
<rect x="1151" y="260" width="5" height="36" fill="#f23645"/>
<rect x="1159" y="251" width="1" height="36" fill="#089981"/>
<rect x="1157" y="269" width="5" height="18" fill="#089981"/>
<rect x="1165" y="269" width="1" height="87" fill="#f23645"/>
<rect x="1163" y="269" width="5" height="53" fill="#f23645"/>
<rect x="1170" y="277" width="1" height="79" fill="#f23645"/>
<rect x="1168" y="329" width="5" height="10" fill="#f23645"/>
<rect x="1176" y="260" width="1" height="70" fill="#089981"/>
<rect x="1174" y="303" width="5" height="27" fill="#089981"/>
<rect x="1182" y="286" width="1" height="36" fill="#089981"/>
<rect x="1180" y="286" width="5" height="27" fill="#089981"/>
<rect x="1188" y="269" width="1" height="61" fill="#f23645"/>
<rect x="1186" y="312" width="5" height="18" fill="#f23645"/>
<rect x="1193" y="286" width="1" height="53" fill="#089981"/>
<rect x="1191" y="286" width="5" height="53" fill="#089981"/>
<rect x="1199" y="269" width="1" height="35" fill="#089981"/>
<rect x="1197" y="277" width="5" height="19" fill="#089981"/>
<rect x="1205" y="164" width="1" height="97" fill="#089981"/>
<rect x="1203" y="208" width="5" height="53" fill="#089981"/>
<rect x="1211" y="173" width="1" height="62" fill="#f23645"/>
<rect x="1209" y="217" width="5" height="9" fill="#f23645"/>
<rect x="1216" y="190" width="1" height="28" fill="#089981"/>
<rect x="1214" y="190" width="5" height="28" fill="#089981"/>
<rect x="1222" y="182" width="1" height="27" fill="#089981"/>
<rect x="1220" y="190" width="5" height="10" fill="#089981"/>
<rect x="1228" y="182" width="1" height="36" fill="#f23645"/>
<rect x="1226" y="199" width="5" height="19" fill="#f23645"/>
<rect x="1233" y="217" width="1" height="44" fill="#f23645"/>
<rect x="1231" y="217" width="5" height="44" fill="#f23645"/>
<rect x="1239" y="260" width="1" height="27" fill="#f23645"/>
<rect x="1237" y="269" width="5" height="9" fill="#f23645"/>
<rect x="1245" y="269" width="1" height="70" fill="#f23645"/>
<rect x="1243" y="269" width="5" height="70" fill="#f23645"/>
<rect x="1251" y="321" width="1" height="87" fill="#f23645"/>
<rect x="1249" y="329" width="5" height="45" fill="#f23645"/>
<rect x="1256" y="364" width="1" height="36" fill="#f23645"/>
<rect x="1254" y="373" width="5" height="9" fill="#f23645"/>
<rect x="1262" y="286" width="1" height="88" fill="#089981"/>
<rect x="1260" y="321" width="5" height="53" fill="#089981"/>
<rect x="1268" y="277" width="1" height="36" fill="#089981"/>
<rect x="1266" y="295" width="5" height="18" fill="#089981"/>
<rect x="1273" y="260" width="1" height="44" fill="#089981"/>
<rect x="1271" y="277" width="5" height="19" fill="#089981"/>
<rect x="1279" y="260" width="1" height="36" fill="#f23645"/>
<rect x="1277" y="260" width="5" height="10" fill="#f23645"/>
<rect x="1285" y="260" width="1" height="27" fill="#f23645"/>
<rect x="1283" y="260" width="5" height="27" fill="#f23645"/>
</g>
<g fill="#f23645" shape-rendering="crispEdges">
<line x1="0" y1="286.5" x2="1345" y2="286.5" stroke="#f23645" stroke-width="1" stroke-dasharray="1 2"/>
</g><text x="1355.2" y="23.2" font-size="15.4" fill="#131722" textLength="44.4" lengthAdjust="spacingAndGlyphs">2347.5</text>
<text x="1355.2" y="66.2" font-size="15.4" fill="#131722" textLength="44.4" lengthAdjust="spacingAndGlyphs">2347.0</text>
<text x="1355.2" y="110.2" font-size="15.4" fill="#131722" textLength="44.4" lengthAdjust="spacingAndGlyphs">2346.5</text>
<text x="1355.2" y="153.2" font-size="15.4" fill="#131722" textLength="44.4" lengthAdjust="spacingAndGlyphs">2346.0</text>
<text x="1355.2" y="196.2" font-size="15.4" fill="#131722" textLength="44.4" lengthAdjust="spacingAndGlyphs">2345.5</text>
<text x="1355.2" y="240.2" font-size="15.4" fill="#131722" textLength="44.4" lengthAdjust="spacingAndGlyphs">2345.0</text>
<text x="1355.2" y="283.2" font-size="15.4" fill="#131722" textLength="44.4" lengthAdjust="spacingAndGlyphs">2344.5</text>
<text x="1355.2" y="327.2" font-size="15.4" fill="#131722" textLength="44.4" lengthAdjust="spacingAndGlyphs">2344.0</text>
<text x="1355.2" y="370.2" font-size="15.4" fill="#131722" textLength="44.4" lengthAdjust="spacingAndGlyphs">2343.5</text>
<text x="1355.2" y="413.2" font-size="15.4" fill="#131722" textLength="44.4" lengthAdjust="spacingAndGlyphs">2343.0</text>
<text x="1355.2" y="457.2" font-size="15.4" fill="#131722" textLength="44.4" lengthAdjust="spacingAndGlyphs">2342.5</text>
<text x="1355.2" y="500.2" font-size="15.4" fill="#131722" textLength="44.4" lengthAdjust="spacingAndGlyphs">2342.0</text>
<text x="1355.2" y="544.2" font-size="15.4" fill="#131722" textLength="44.4" lengthAdjust="spacingAndGlyphs">2341.5</text>
<text x="1355.2" y="587.2" font-size="15.4" fill="#131722" textLength="44.4" lengthAdjust="spacingAndGlyphs">2341.0</text>
<text x="1355.2" y="630.2" font-size="15.4" fill="#131722" textLength="44.4" lengthAdjust="spacingAndGlyphs">2340.5</text>
<text x="1355.2" y="674.2" font-size="15.4" fill="#131722" textLength="44.4" lengthAdjust="spacingAndGlyphs">2340.0</text>
<path d="M1345 659h22.8a3 3 0 0 1 3 3v15a3 3 0 0 1 -3 3h-22.8z" fill="#ef5350"/>
<text x="1359.6" y="675.4" font-size="15.6" fill="#fff" text-anchor="middle">4</text>
<path d="M1345 276h59a3 3 0 0 1 3 3v33a3 3 0 0 1 -3 3h-59z" fill="#f23645"/>
<text x="1356" y="293" font-size="15" fill="#fff" textLength="45" lengthAdjust="spacingAndGlyphs" font-weight="bold">2344.4</text>
<text x="1356" y="310" font-size="15" fill="#fff" textLength="37" lengthAdjust="spacingAndGlyphs" fill-opacity="0.8">00:54</text>
<text x="1.3" y="703" font-size="15.8" fill="#131722" textLength="19.6" lengthAdjust="spacingAndGlyphs">:00</text>
<text x="150.85" y="703" font-size="15.8" fill="#131722" textLength="36.5" lengthAdjust="spacingAndGlyphs">22:30</text>
<text x="322.85" y="703" font-size="15.8" fill="#131722" textLength="36.5" lengthAdjust="spacingAndGlyphs">23:00</text>
<text x="482.85" y="703" font-size="15.8" fill="#131722" textLength="36.5" lengthAdjust="spacingAndGlyphs">23:30</text>
<text x="825.85" y="703" font-size="15.8" fill="#131722" textLength="36.5" lengthAdjust="spacingAndGlyphs">00:30</text>
<text x="997.85" y="703" font-size="15.8" fill="#131722" textLength="36.5" lengthAdjust="spacingAndGlyphs">01:00</text>
<text x="1169.85" y="703" font-size="15.8" fill="#131722" textLength="36.5" lengthAdjust="spacingAndGlyphs">01:30</text>
<text x="1283.85" y="703" font-size="15.8" fill="#131722" textLength="36.5" lengthAdjust="spacingAndGlyphs">01:50</text>
<text x="664.9" y="703" font-size="15.8" fill="#131722" textLength="16.8" lengthAdjust="spacingAndGlyphs" font-weight="bold">14</text>
<g fill="none" stroke="#131722" stroke-width="1.5" stroke-linejoin="round"><path d="M1375.1 690.4h8.8l4.4 7.5-4.4 7.5h-8.8l-4.4-7.5z"/><circle cx="1379.5" cy="697.9" r="2.5"/></g>
<g><circle cx="1285.6" cy="663" r="11.6" fill="#fff" stroke="#9c27b0" stroke-width="2"/><path d="M1288.7 656.2l-8.2 8.2 4.2 0.2-3 5.4 9-8.6-4.6-0.2z" fill="#9c27b0"/></g>
<circle cx="22.5" cy="21" r="11.3" fill="#d59c06"/>
<g fill="#fff"><path d="M20.5 15.9h4.2l2.2 3.85h-8.85z"/><path d="M16.5 21.2h3.4l2.1 3.65h-8.15z"/><path d="M25.2 21.2h3.4l2.5 3.65h-8.1z"/></g>
<text x="39" y="29.4" font-size="20" fill="#131722" textLength="215" lengthAdjust="spacingAndGlyphs">Gold Futures · 1 · COMEX</text>
<path d="M285 10h14v22h-14a11 11 0 0 1 0-22z" fill="#def2ee"/>
<path d="M299 10h13.5a11 11 0 0 1 0 22h-13.5z" fill="#ffe8c9"/>
<circle cx="287" cy="20.9" r="5" fill="#089981"/>
<text x="305.0" y="26.9" font-size="16.8" fill="#f57c00" textLength="10.6" lengthAdjust="spacingAndGlyphs" font-weight="bold">D</text>
<text x="343.59999999999997" y="27.4" font-size="16" fill="#131722" textLength="11.4" lengthAdjust="spacingAndGlyphs">O</text>
<text x="356" y="27.4" font-size="16" fill="#f23645" textLength="48" lengthAdjust="spacingAndGlyphs">2344.7</text>
<text x="412.4" y="27.4" font-size="16" fill="#131722" textLength="9.6" lengthAdjust="spacingAndGlyphs">H</text>
<text x="424" y="27.4" font-size="16" fill="#f23645" textLength="47.8" lengthAdjust="spacingAndGlyphs">2344.7</text>
<text x="481.09999999999997" y="27.4" font-size="16" fill="#131722" textLength="7.1" lengthAdjust="spacingAndGlyphs">L</text>
<text x="489.8" y="27.4" font-size="16" fill="#f23645" textLength="47.9" lengthAdjust="spacingAndGlyphs">2344.4</text>
<text x="545.6999999999999" y="27.4" font-size="16" fill="#131722" textLength="9.5" lengthAdjust="spacingAndGlyphs">C</text>
<text x="556.5" y="27.4" font-size="16" fill="#f23645" textLength="48.5" lengthAdjust="spacingAndGlyphs">2344.4</text>
<text x="613.5" y="27.4" font-size="16" fill="#f23645" textLength="29.1" lengthAdjust="spacingAndGlyphs">−0.2</text>
<text x="650.6" y="27.4" font-size="16" fill="#f23645" textLength="60.0" lengthAdjust="spacingAndGlyphs">(−0.01%)</text>
<rect x="10.5" y="41.5" width="67" height="29" rx="4" fill="#fff" stroke="#f23645"/>
<text x="20.4" y="62" font-size="16" fill="#f23645" textLength="47.4" lengthAdjust="spacingAndGlyphs">2344.4</text>
<text x="88" y="62" font-size="16" fill="#131722" textLength="19.5" lengthAdjust="spacingAndGlyphs">0.2</text>
<rect x="118.5" y="41.5" width="67" height="29" rx="4" fill="#fff" stroke="#2962ff"/>
<text x="127.9" y="62" font-size="16" fill="#2962ff" textLength="47.4" lengthAdjust="spacingAndGlyphs">2344.6</text>
<text x="11.5" y="96.5" font-size="15" fill="#131722" textLength="21" lengthAdjust="spacingAndGlyphs">Vol</text>
<text x="42.8" y="96.7" font-size="16" fill="#ef5350" textLength="8.8" lengthAdjust="spacingAndGlyphs">4</text>
<rect x="11.5" y="109.5" width="35" height="24" rx="3.5" fill="#fff" stroke="#d1d4dc"/>
<path d="M23.6 124.3l5-5 5 5" fill="none" stroke="#131722" stroke-width="1.7"/>
<g fill="#fff" stroke="#fff" stroke-width="8" stroke-linejoin="round"><path d="M15.1 643.8h15.3v17.9h-7.6v-10.6h-7.7z"/><circle cx="35.5" cy="646.9" r="3.5"/><path d="M41.5 643.8h10.6l-5.2 17.9h-9.8z"/><text x="61.5" y="661.7" font-size="24.5" font-weight="bold" textLength="150" lengthAdjust="spacingAndGlyphs">TradingView</text></g>
<g fill="#131722"><path d="M15.1 643.8h15.3v17.9h-7.6v-10.6h-7.7z"/><circle cx="35.5" cy="646.9" r="3.5"/><path d="M41.5 643.8h10.6l-5.2 17.9h-9.8z"/><text x="61.5" y="661.7" font-size="24.5" font-weight="bold" textLength="150" lengthAdjust="spacingAndGlyphs">TradingView</text></g>
<path d="M0.5 3a2.5 2.5 0 0 1 2.5-2.5h1400a9.5 9.5 0 0 1 9.5 9.5" fill="none" stroke="#e0e3eb" stroke-width="1.3"/>
</svg></body>
</html>
